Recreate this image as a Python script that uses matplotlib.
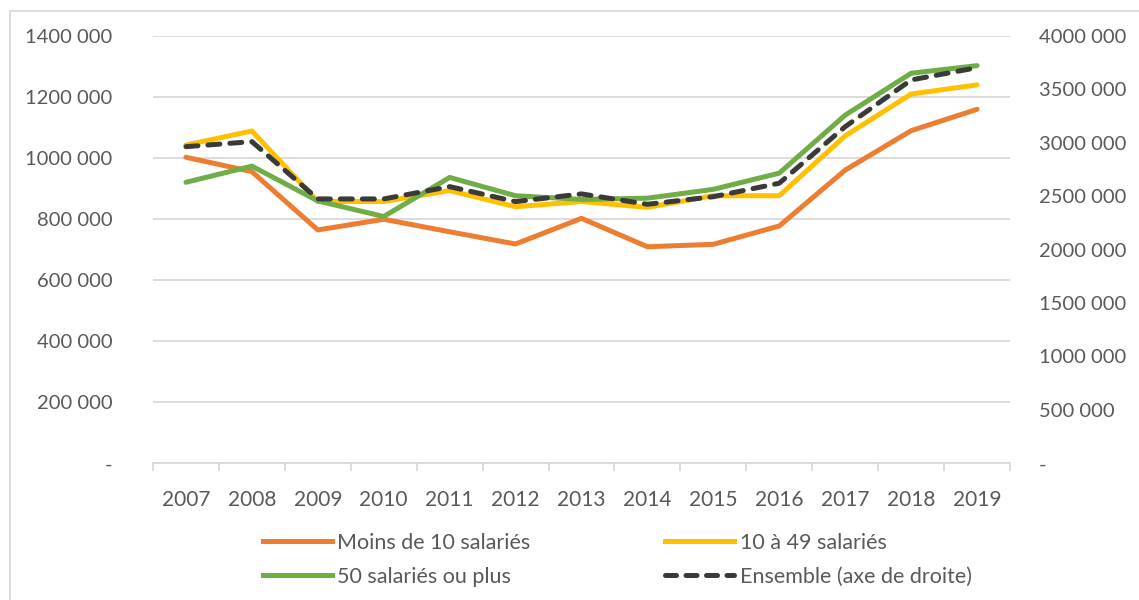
import numpy as np
import matplotlib.pyplot as plt
from matplotlib.lines import Line2D
from matplotlib.patches import Rectangle
from matplotlib.ticker import FuncFormatter, MultipleLocator

plt.rcParams['font.family'] = ['Lato', 'DejaVu Sans']

annees = ["2007", "2008", "2009", "2010", "2011", "2012", "2013",
          "2014", "2015", "2016", "2017", "2018", "2019"]
moins_10 = [1002000, 955000, 764000, 799000, 758000, 718000, 802000,
            709000, 717000, 777000, 960000, 1089000, 1159000]
de_10_a_49 = [1042000, 1088000, 857000, 857000, 893000, 840000, 857000,
              838000, 876000, 876000, 1072000, 1209000, 1239000]
plus_50 = [920000, 973000, 859000, 808000, 936000, 876000, 864000,
           868000, 897000, 950000, 1140000, 1277000, 1302000]
ensemble = [2962000, 3009000, 2473000, 2473000, 2588000, 2448000, 2520000,
            2423000, 2494000, 2620000, 3149000, 3586000, 3701000]

gris_txt = "#595959"
gris_grille = "#d9d9d9"

W, H = 1139, 600
fig = plt.figure(figsize=(W / 100, H / 100), dpi=100)

# cadre du graphique (coupé à droite et en bas)
fig.patches.append(Rectangle((10 / W, -0.05), 1.1, 1 - 11 / H + 0.05,
                             transform=fig.transFigure, fill=False,
                             edgecolor=gris_grille, lw=1.3))

ax = fig.add_axes([153 / W, 1 - 463.3 / H, (1010 - 153) / W, (463.3 - 35.7) / H])
ax2 = ax.twinx()

x = np.arange(len(annees))
lw = 3.6
ax.plot(x, moins_10, color="#ED7D31", lw=lw, solid_capstyle="round", solid_joinstyle="round")
ax.plot(x, de_10_a_49, color="#FFC000", lw=lw, solid_capstyle="round", solid_joinstyle="round")
ax.plot(x, plus_50, color="#70AD47", lw=lw, solid_capstyle="round", solid_joinstyle="round")
ax2.plot(x, ensemble, color="#3a3a3a", lw=lw, dashes=(2.4, 2.0),
         dash_capstyle="round", dash_joinstyle="round")

def fmt(v, pos):
    if v == 0:
        return "-"
    return "%d 000" % round(v / 1000)

ax.set_xlim(-0.5, len(annees) - 0.5)
ax.set_ylim(0, 1400000)
ax2.set_ylim(0, 4000000)
ax.yaxis.set_major_locator(MultipleLocator(200000))
ax2.yaxis.set_major_locator(MultipleLocator(500000))
ax.yaxis.set_major_formatter(FuncFormatter(fmt))
ax2.yaxis.set_major_formatter(FuncFormatter(fmt))

taille = 14.5
ax.set_xticks(x)
ax.set_xticklabels(annees)
ax.set_xticks(np.arange(-0.5, len(annees)), minor=True)
ax.tick_params(axis="x", which="major", length=0, pad=19, labelsize=taille + 0.5, labelcolor=gris_txt)
ax.tick_params(axis="x", which="minor", length=6, width=1.3, color=gris_grille, direction="out")
ax.tick_params(axis="y", length=0, pad=29, labelsize=taille, labelcolor=gris_txt)
ax2.tick_params(axis="y", length=0, pad=21, labelsize=taille, labelcolor=gris_txt)

ax.grid(axis="y", color=gris_grille, lw=1.3)
ax.set_axisbelow(True)
for a in (ax, ax2):
    for s in ("top", "left", "right"):
        a.spines[s].set_visible(False)
    a.spines["bottom"].set_color(gris_grille)
    a.spines["bottom"].set_linewidth(1.3)
ax2.spines["bottom"].set_visible(False)

poignees = [
    Line2D([], [], color="#ED7D31", lw=lw),
    Line2D([], [], color="#70AD47", lw=lw),
    Line2D([], [], color="#FFC000", lw=lw),
    Line2D([], [], color="#3a3a3a", lw=lw, dashes=(2.2, 1.9), dash_capstyle="round"),
]
noms = ["Moins de 10 salariés", "50 salariés ou plus",
        "10 à 49 salariés", "Ensemble (axe de droite)"]
leg = fig.legend(poignees, noms, ncol=2, loc="center", bbox_to_anchor=(0.542, 1 - 560 / H),
                 frameon=False, fontsize=15.5, labelcolor=gris_txt, handlelength=3.2,
                 handletextpad=0.25, columnspacing=6.25, labelspacing=0.65)

fig.savefig("out.png", dpi=100)
